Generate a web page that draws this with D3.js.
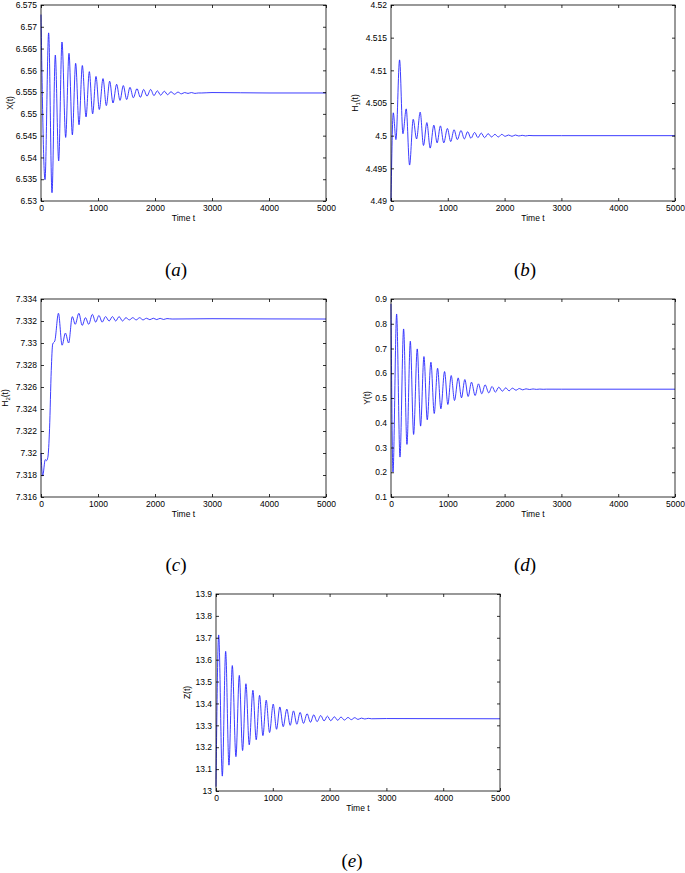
<!DOCTYPE html>
<html><head><meta charset="utf-8">
<script src="https://cdn.jsdelivr.net/npm/d3@7"></script>
<style>
html,body{margin:0;padding:0;background:#fff;}
svg{display:block;}
</style></head>
<body>
<svg id="fig" width="685" height="873"></svg>
<script>
// ---------- DATA ----------
const xTicks = [0, 1000, 2000, 3000, 4000, 5000];
const xTickLabels = ["0", "1000", "2000", "3000", "4000", "5000"];

// (a) X(t)
const aT = [0, 70, 134, 193, 251, 310, 368, 433, 491, 550, 608, 667, 725, 790, 848, 906, 965, 1023, 1088, 1146, 1205, 1263, 1327, 1386, 1444, 1503, 1561, 1620, 1684, 1743, 1801, 1860, 1924, 1982, 2041, 2099, 2164, 2222, 2281, 2339, 2404, 2462, 2520, 2579, 2640, 2700, 2760, 2820, 3000, 4000, 5000];
const aV = [6.5728, 6.5349, 6.5686, 6.5319, 6.5635, 6.5392, 6.5665, 6.5446, 6.5639, 6.5452, 6.5616, 6.5475, 6.5611, 6.5493, 6.5597, 6.5500, 6.5586, 6.5510, 6.5581, 6.5519, 6.5575, 6.5525, 6.5568, 6.5531, 6.5565, 6.5533, 6.5561, 6.5537, 6.5558, 6.5538, 6.5556, 6.5541, 6.5556, 6.5542, 6.5553, 6.5543, 6.5552, 6.5544, 6.5551, 6.5545, 6.5550, 6.5546, 6.5549, 6.5547, 6.5549, 6.5547, 6.5548, 6.5548, 6.5549, 6.5548, 6.5548];
const aYTicks = [6.53, 6.535, 6.54, 6.545, 6.55, 6.555, 6.56, 6.565, 6.57, 6.575];
const aYLabels = ["6.53", "6.535", "6.54", "6.545", "6.55", "6.555", "6.56", "6.565", "6.57", "6.575"];

// (b) H1(t)
const bT = [0, 40, 87, 151, 210, 268, 327, 391, 450, 514, 572, 631, 690, 754, 812, 870, 929, 993, 1051, 1110, 1168, 1232, 1291, 1349, 1408, 1472, 1530, 1589, 1647, 1711, 1770, 1830, 1890, 1950, 2010, 2070, 2130, 2190, 2250, 2310, 2370, 2430, 2500, 3000, 5000];
const bV = [4.4900, 4.5035, 4.4994, 4.5116, 4.5003, 4.5041, 4.4955, 4.5025, 4.4995, 4.5036, 4.4985, 4.5020, 4.4981, 4.5016, 4.4989, 4.5015, 4.4989, 4.5011, 4.4991, 4.5009, 4.4994, 4.5008, 4.4995, 4.5006, 4.4996, 4.5005, 4.4997, 4.5004, 4.4997, 4.5003, 4.4998, 4.5002, 4.4998, 4.5002, 4.4999, 4.5001, 4.4999, 4.5001, 4.49995, 4.50005, 4.49996, 4.50003, 4.5000, 4.5000, 4.5000];
const bYTicks = [4.49, 4.495, 4.5, 4.505, 4.51, 4.515, 4.52];
const bYLabels = ["4.49", "4.495", "4.5", "4.505", "4.51", "4.515", "4.52"];

// (c) H2(t)
const cT = [0, 29, 75, 95, 120, 150, 180, 205, 243, 306, 370, 428, 485, 549, 601, 664, 723, 780, 837, 901, 959, 1016, 1074, 1132, 1195, 1253, 1311, 1370, 1430, 1490, 1550, 1610, 1670, 1730, 1790, 1850, 1910, 1970, 2030, 2090, 2150, 2210, 2300, 3000, 4000, 5000];
const cV = [7.3200, 7.3179, 7.3194, 7.3193, 7.3196, 7.3222, 7.3275, 7.3299, 7.3302, 7.3327, 7.3298, 7.3309, 7.3300, 7.3324, 7.3317, 7.3327, 7.3316, 7.3323, 7.3317, 7.3326, 7.3319, 7.3325, 7.3319, 7.3324, 7.3320, 7.3324, 7.3320, 7.3324, 7.3320, 7.3323, 7.3321, 7.3323, 7.3321, 7.3323, 7.3321, 7.33225, 7.33212, 7.33225, 7.33213, 7.33224, 7.33214, 7.33222, 7.33218, 7.33221, 7.33219, 7.33218];
const cYTicks = [7.316, 7.318, 7.32, 7.322, 7.324, 7.326, 7.328, 7.33, 7.332, 7.334];
const cYLabels = ["7.316", "7.318", "7.32", "7.322", "7.324", "7.326", "7.328", "7.33", "7.332", "7.334"];

// (d) Y(t)
const dT = [0, 35, 99, 158, 222, 281, 340, 398, 462, 521, 580, 638, 703, 761, 820, 878, 943, 1001, 1060, 1118, 1183, 1241, 1300, 1358, 1417, 1481, 1540, 1598, 1657, 1721, 1780, 1838, 1897, 1961, 2020, 2079, 2137, 2201, 2260, 2319, 2377, 2442, 2500, 2560, 2620, 2680, 2740, 3000, 5000];
const dV = [0.88, 0.201, 0.8395, 0.2613, 0.779, 0.3125, 0.7293, 0.3528, 0.6983, 0.3864, 0.6674, 0.412, 0.6445, 0.4375, 0.6203, 0.4563, 0.6069, 0.4738, 0.5908, 0.4899, 0.5813, 0.5007, 0.5746, 0.5061, 0.5639, 0.5101, 0.5572, 0.5168, 0.5531, 0.5208, 0.5464, 0.5235, 0.5437, 0.5276, 0.541, 0.529, 0.5397, 0.5316, 0.5383, 0.533, 0.537, 0.5343, 0.5365, 0.5349, 0.536, 0.5352, 0.5357, 0.5356, 0.5356];
const dYTicks = [0.1, 0.2, 0.3, 0.4, 0.5, 0.6, 0.7, 0.8, 0.9];
const dYLabels = ["0.1", "0.2", "0.3", "0.4", "0.5", "0.6", "0.7", "0.8", "0.9"];

// (e) Z(t)
const eT = [0, 47, 111, 170, 228, 287, 351, 410, 468, 527, 585, 650, 708, 767, 826, 884, 943, 1007, 1066, 1124, 1183, 1247, 1306, 1364, 1423, 1481, 1540, 1604, 1663, 1721, 1780, 1844, 1903, 1961, 2020, 2084, 2143, 2201, 2260, 2324, 2383, 2442, 2500, 2560, 2620, 2680, 2740, 3000, 5000];
const eV = [13.02, 13.713, 13.068, 13.638, 13.118, 13.573, 13.157, 13.528, 13.185, 13.490, 13.211, 13.460, 13.234, 13.437, 13.253, 13.415, 13.267, 13.397, 13.282, 13.384, 13.294, 13.374, 13.300, 13.366, 13.305, 13.359, 13.309, 13.353, 13.314, 13.348, 13.317, 13.345, 13.320, 13.342, 13.321, 13.339, 13.323, 13.338, 13.324, 13.336, 13.326, 13.335, 13.327, 13.333, 13.329, 13.332, 13.330, 13.331, 13.330];
const eYTicks = [13, 13.1, 13.2, 13.3, 13.4, 13.5, 13.6, 13.7, 13.8, 13.9];
const eYLabels = ["13", "13.1", "13.2", "13.3", "13.4", "13.5", "13.6", "13.7", "13.8", "13.9"];

const panelLetters = ["a", "b", "c", "d", "e"];
const xLabelText = "Time t";

// ---------- LAYOUT ----------
const layout = [
  {t: aT, v: aV, yt: aYTicks, yl: aYLabels, yName: ["X", "", "(t)"], box: [41, 326, 5, 201], yLabX: 10, cap: [176, 276]},
  {t: bT, v: bV, yt: bYTicks, yl: bYLabels, yName: ["H", "1", "(t)"], box: [391, 675, 5, 201], yLabX: 355, cap: [525, 276]},
  {t: cT, v: cV, yt: cYTicks, yl: cYLabels, yName: ["H", "2", "(t)"], box: [41, 326, 299, 497], yLabX: 5, cap: [176, 571]},
  {t: dT, v: dV, yt: dYTicks, yl: dYLabels, yName: ["Y", "", "(t)"], box: [391, 675, 299, 497], yLabX: 367, cap: [525, 571]},
  {t: eT, v: eV, yt: eYTicks, yl: eYLabels, yName: ["Z", "", "(t)"], box: [216, 500, 594, 791], yLabX: 187, cap: [352, 867]}
];

const svg = d3.select("#fig");
svg.append("rect").attr("width", 685).attr("height", 873).attr("fill", "#fff");
const FONT = "'Liberation Sans', Arial, Helvetica, sans-serif";
const FS = 8.5;

layout.forEach((p, i) => {
  const [x0, x1, y0, y1] = p.box;
  const x = d3.scaleLinear().domain([0, 5000]).range([x0, x1]);
  const y = d3.scaleLinear().domain([p.yt[0], p.yt[p.yt.length - 1]]).range([y1, y0]);
  const g = svg.append("g");

  // line
  const pts = p.t.map((t, k) => [t, p.v[k]]);
  const line = d3.line().x(d => x(d[0])).y(d => y(d[1])).curve(d3.curveMonotoneX);
  g.append("path").datum(pts).attr("d", line)
    .attr("fill", "none").attr("stroke", "#1a1aff").attr("stroke-width", 0.85)
    .attr("stroke-linejoin", "round");

  // axes
  const styleAxis = sel => {
    sel.select(".domain").remove();
    sel.selectAll(".tick line").attr("stroke", "#000").attr("stroke-width", 0.8);
    sel.selectAll("text").attr("font-family", FONT).attr("font-size", FS).attr("fill", "#000");
  };
  g.append("g").attr("transform", `translate(0,${y1})`)
    .call(d3.axisBottom(x).tickValues(xTicks).tickFormat((d, k) => xTickLabels[k]).tickSizeInner(-3).tickSizeOuter(0).tickPadding(4))
    .call(styleAxis);
  g.append("g").attr("transform", `translate(0,${y0})`)
    .call(d3.axisTop(x).tickValues(xTicks).tickFormat("").tickSizeInner(-3).tickSizeOuter(0))
    .call(styleAxis);
  g.append("g").attr("transform", `translate(${x0},0)`)
    .call(d3.axisLeft(y).tickValues(p.yt).tickFormat((d, k) => p.yl[k]).tickSizeInner(-3).tickSizeOuter(0).tickPadding(4))
    .call(styleAxis);
  g.append("g").attr("transform", `translate(${x1},0)`)
    .call(d3.axisRight(y).tickValues(p.yt).tickFormat("").tickSizeInner(-3).tickSizeOuter(0))
    .call(styleAxis);

  // box
  g.append("rect").attr("x", x0).attr("y", y0).attr("width", x1 - x0).attr("height", y1 - y0)
    .attr("fill", "none").attr("stroke", "#000").attr("stroke-width", 0.8);

  // x label
  g.append("text").attr("x", (x0 + x1) / 2).attr("y", y1 + 20)
    .attr("text-anchor", "middle").attr("font-family", FONT).attr("font-size", FS)
    .text(xLabelText);

  // y label
  const yl = g.append("text")
    .attr("transform", `translate(${p.yLabX},${(y0 + y1) / 2}) rotate(-90)`)
    .attr("text-anchor", "middle").attr("dominant-baseline", "central")
    .attr("font-family", FONT).attr("font-size", FS);
  yl.append("tspan").text(p.yName[0]);
  if (p.yName[1]) {
    yl.append("tspan").attr("font-size", FS * 0.7).attr("dy", 2.5).text(p.yName[1]);
    yl.append("tspan").attr("dy", -2.5).text(p.yName[2]);
  } else {
    yl.append("tspan").text(p.yName[2]);
  }

  // caption
  const cap = svg.append("text").attr("x", p.cap[0]).attr("y", p.cap[1])
    .attr("text-anchor", "middle").attr("font-family", "'Liberation Serif', 'Times New Roman', serif")
    .attr("font-size", 19);
  cap.append("tspan").text("(");
  cap.append("tspan").attr("font-style", "italic").text(panelLetters[i]);
  cap.append("tspan").text(")");
});
</script>
</body></html>
